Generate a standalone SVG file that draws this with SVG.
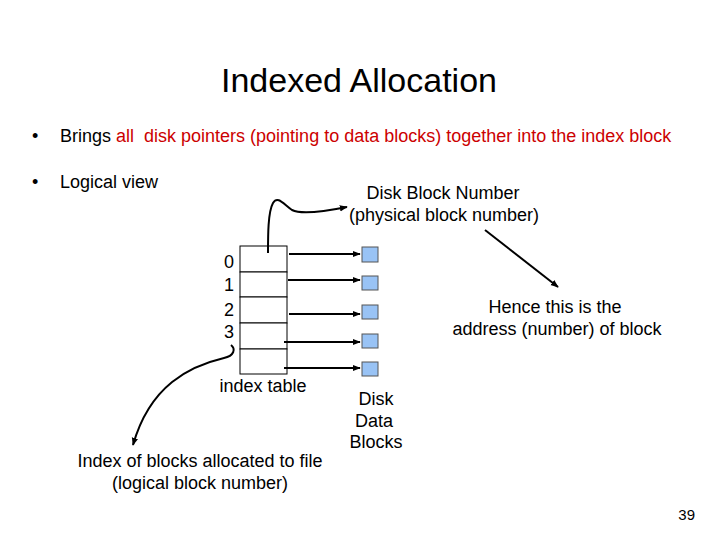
<svg xmlns="http://www.w3.org/2000/svg" width="720" height="540" viewBox="0 0 720 540">
<style>
text{font-family:"Liberation Sans",Arial,sans-serif;fill:#000}
.t{font-size:18px}
.c{text-anchor:middle}
.red{fill:#cc0000;white-space:pre}
.cell{fill:#fff;stroke:#000;stroke-width:1}
.blk{fill:#99c3f5;stroke:#555;stroke-width:1}
.ln{fill:none;stroke:#000;stroke-width:2}
</style>
<defs>
<marker id="ah" viewBox="0 0 10 10" refX="9" refY="5" markerWidth="4" markerHeight="4" orient="auto">
<path d="M0,1 L10,5 L0,9 z" fill="#000"/>
</marker>
</defs>
<rect width="720" height="540" fill="#fff"/>
<text x="359" y="92" class="c" font-size="34">Indexed Allocation</text>
<g id="bullets">
<text x="32" y="142" class="t">•</text>
<text x="60" y="142" class="t" xml:space="preserve">Brings <tspan class="red">all  disk pointers (pointing to data blocks) together into the index block</tspan></text>
<text x="32" y="188" class="t">•</text>
<text x="60" y="188" class="t">Logical view</text>
</g>
<g id="index-table">
<rect class="cell" x="240" y="246" width="47" height="26"/>
<rect class="cell" x="240" y="272" width="47" height="25"/>
<rect class="cell" x="240" y="297" width="47" height="26"/>
<rect class="cell" x="240" y="323" width="47" height="26"/>
<rect class="cell" x="240" y="349" width="47" height="25"/>
<text x="229" y="268" class="t c">0</text>
<text x="229" y="291" class="t c">1</text>
<text x="229" y="316" class="t c">2</text>
<text x="229" y="338" class="t c">3</text>
<text x="263" y="392" class="t c">index table</text>
</g>
<g id="disk-blocks">
<rect class="blk" x="362" y="247" width="16" height="15"/>
<rect class="blk" x="362" y="276" width="16" height="14"/>
<rect class="blk" x="362" y="305" width="16" height="14"/>
<rect class="blk" x="362" y="334" width="16" height="14"/>
<rect class="blk" x="362" y="362" width="16" height="14"/>
<text x="376" y="405" class="t c">Disk</text>
<text x="374" y="427" class="t c">Data</text>
<text x="376" y="448" class="t c">Blocks</text>
</g>
<g id="label-physical">
<text x="443" y="199" class="t c">Disk Block Number</text>
<text x="444" y="221" class="t c">(physical block number)</text>
</g>
<g id="label-address">
<text x="555" y="313" class="t c">Hence this is the</text>
<text x="557" y="335" class="t c">address (number) of block</text>
</g>
<g id="label-logical">
<text x="200" y="467" class="t c">Index of blocks allocated to file</text>
<text x="200" y="489" class="t c">(logical block number)</text>
</g>
<text x="695" y="520" font-size="15" text-anchor="end">39</text>
<g id="connectors">
<path class="ln" d="M289,254 L360,254" marker-end="url(#ah)"/>
<path class="ln" d="M288,280 L360,280" marker-end="url(#ah)"/>
<path class="ln" d="M289,314 L360,314" marker-end="url(#ah)"/>
<path class="ln" d="M284,342 L360,342" marker-end="url(#ah)"/>
<path class="ln" d="M284,368 L360,368" marker-end="url(#ah)"/>
<path class="ln" d="M268,253 C268,235 268,212 273,203 C278,195 284,205 292,210 C300,214 322,212 347,207" marker-end="url(#ah)"/>
<path class="ln" d="M231,345 C236,349 234,356 224,358 C190,366 150,385 133,445" marker-end="url(#ah)"/>
<path class="ln" d="M485,230 L558,287" marker-end="url(#ah)"/>
</g>
</svg>
